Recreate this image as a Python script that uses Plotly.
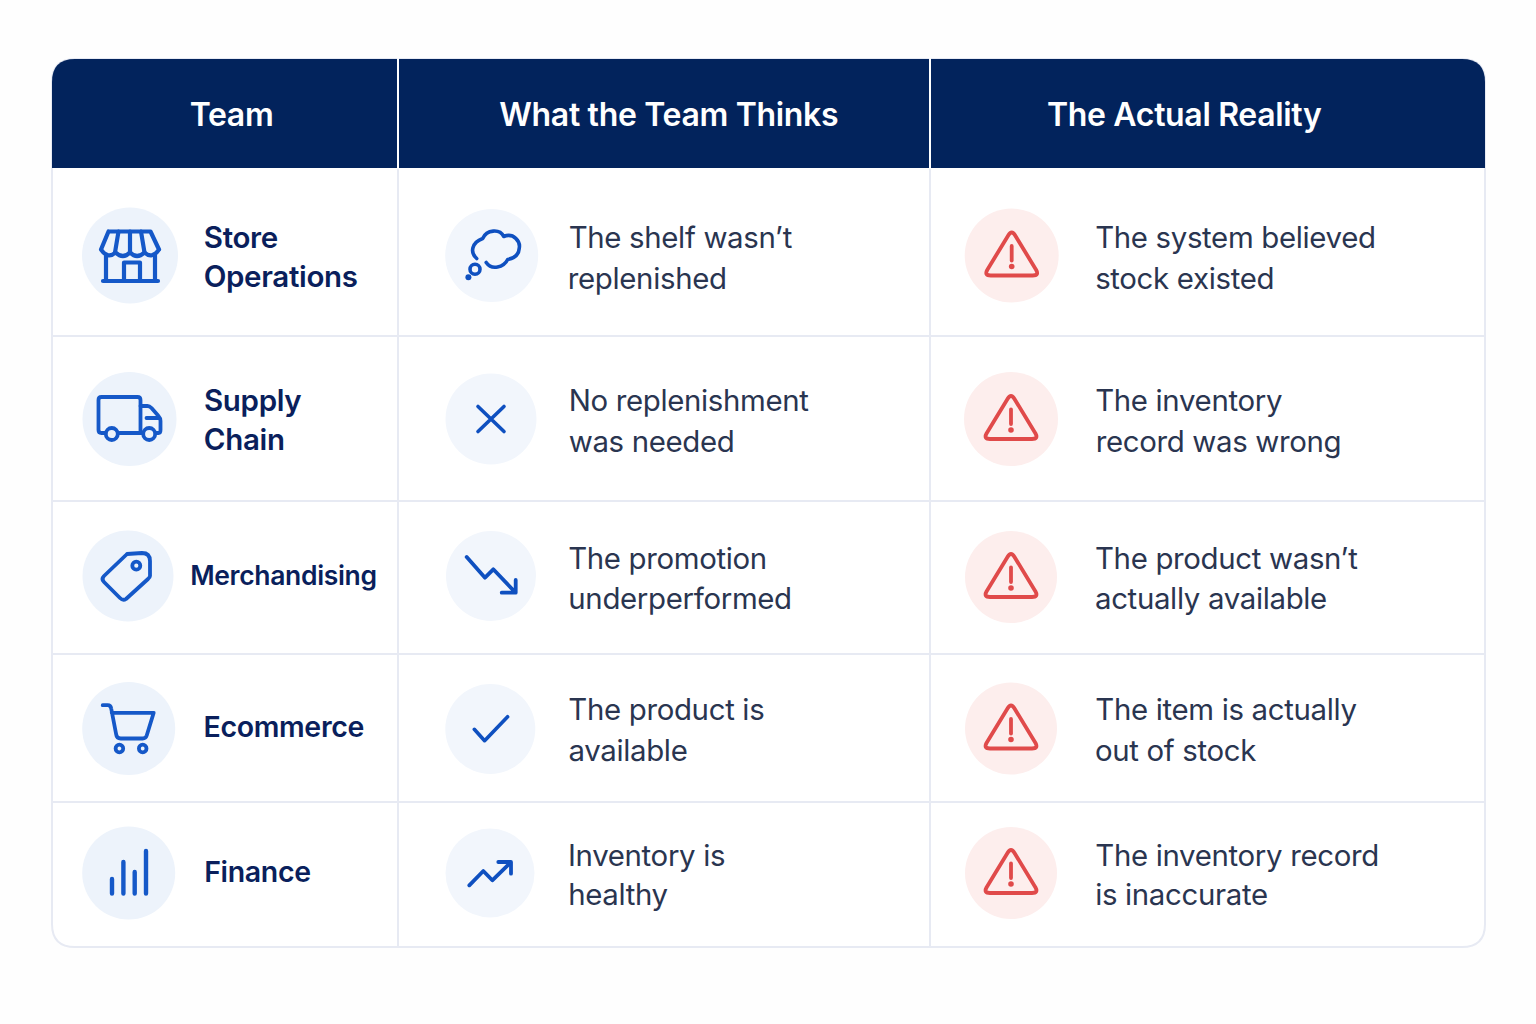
import re
import plotly.graph_objects as go

# ---- table content ----
HEADERS = ["Team", "What the Team Thinks", "The Actual Reality"]
TEAMS = [["Store", "Operations"], ["Supply", "Chain"], ["Merchandising"], ["Ecommerce"], ["Finance"]]
THINKS = [["The shelf wasn’t", "replenished"], ["No replenishment", "was needed"],
          ["The promotion", "underperformed"], ["The product is", "available"], ["Inventory is", "healthy"]]
REALITY = [["The system believed", "stock existed"], ["The inventory", "record was wrong"],
           ["The product wasn’t", "actually available"], ["The item is actually", "out of stock"],
           ["The inventory record", "is inaccurate"]]

# ---- layout (pixels) ----
L, R, T, B = 52, 1485, 59, 947
HEAD_B = 168
COLS = [398, 930]
ROWS = [336, 501, 654, 802]
HEAD_X = [231.5, 668, 1184.5]
HEAD_Y = 114.5
TEAM_X = [204.5, 204.5, 190.5, 204.5, 204.5]
TEAM_SIZE = [29.5, 29.5, 26.5, 28.5, 28.5]
TEAM_Y = [[236.5, 275.5], [399.5, 438.5], [574.5], [726.5], [871.5]]
TEXT_Y = [[237.5, 278.5], [400.5, 441.5], [558.5, 598.5], [709.5, 750.5], [855.5, 894.5]]
TEXT_X2, TEXT_X3 = 569, 1096
TEXT_SIZE = 29.4
SPACING = 0.33
C1 = [(130, 255.5, 48), (129.5, 419, 47), (128, 576, 45.5), (128.7, 728.5, 46.5), (128.7, 873, 46.5)]
C2 = [(491.7, 255.5, 46.5), (491, 419, 45.5), (491, 576, 45), (490.3, 729, 45), (490, 873, 44.5)]
C3 = [(1011.7, 255.5, 47), (1011, 419, 47), (1011, 577, 46), (1011, 728.5, 46), (1011, 873, 46)]

NAVY, BLUE, RED = "#02235C", "#1558C8", "#E04A4A"
TEAM_C, BODY_C, LINE_C = "#0A1F5C", "#2A3550", "#E7EAF3"
BG_BLUE1, BG_BLUE2, BG_RED = "#EDF3FB", "#F2F6FC", "#FDEEED"
FONT = "Inter"

# ---- icons, offsets from circle centre ----
ICONS = {
    "store": {"p": ["M-21.5,-24 L20.5,-24 L29,-6 M-21.5,-24 L-29,-6 Q-22,4 -14.5,-3 Q-7,4 0,-3 Q7,4 14.5,-3 Q22,4 29,-6",
                    "M-11.5,-24 L-15,-3 M0,-24 L0,-3 M11,-24 L14.5,-3",
                    "M-24,0 L-24,25 M25,0 L25,25 M-27,25.5 L28,25.5 M-6,25 L-6,7 L10,7 L10,25"], "w": 4.2},
    "truck": {"p": ["M-24,14 L-28,14 Q-31,14 -31,11 L-31,-19 Q-31,-22 -28,-22 L8,-22 Q11,-22 11,-19 L11,14 M-10,14 L12,14",
                    "M11,-13 L18,-13 Q20,-13 22,-11 L29,-3 Q31,-1 31,2 L31,11 Q31,14 29,14 L27,14 M17,-1 L30,-1"],
              "c": [(-17.7, 15, 6), (19.7, 15, 6)], "w": 3.8},
    "tag": {"p": ["M-1,-22 L14,-23 Q22,-23 22,-15 L22,0 Q22,1 20,3 L-2,23 Q-5,25 -8,22 L-24,6 Q-27,3 -24,0 L-2,-21 Z"],
            "c": [(8.3, -10.3, 4)], "w": 3.8},
    "cart": {"p": ["M-26,-23.3 L-21,-23.3 Q-18,-23.3 -17.5,-20 L-12.5,6 Q-12,10 -8,10 L14,10 Q17,10 18,7 L25,-15.7 L-17,-15.7"],
             "c": [(-9.3, 20, 3.8), (14, 20, 3.8)], "w": 3.8},
    "bars": {"p": ["M-16.7,6 L-16.7,20.5 M-5.3,-11 L-5.3,20.5 M6,-1 L6,20.5 M17.3,-22 L17.3,20.5"], "w": 4.4},
    "thought": {"p": ["M-15,3 C-22,-3 -20,-13 -9,-17 C-5,-26 8,-27 12,-19 C22,-23 29,-14 27.5,-7 C27,0 21,3 16,4 C12,12 0,15 -5.5,7"],
                "c": [(-16.7, 13.7, 5)], "d": [(-23.3, 21.7, 3)], "w": 3.6},
    "cross": {"p": ["M-13,-12.5 L13,12.5 M13,-12.5 L-13,12.5"], "w": 3.6},
    "down": {"p": ["M-24.3,-19 L-6,1.7 L2.3,-6.7 L24,16 M10.7,16.7 L24.7,16.7 L24.7,4"], "w": 3.8},
    "check": {"p": ["M-16,0.3 L-5.7,11.7 L17.3,-12.3"], "w": 3.6},
    "up": {"p": ["M-20.7,12.3 L-6.7,-2 L2.3,7.3 L20,-10 M8.3,-11 L21,-11 L21,0.7"], "w": 3.8},
    "warn": {"p": ["M-3.5,-20 Q0,-26 3.5,-20 L24.5,14.5 Q27.5,20 21,20 L-21,20 Q-27.5,20 -24.5,14.5 Z", "M0,-9.5 L0,5"],
             "d": [(0, 11, 2.8)], "w": 3.8},
}
ICONS1 = ["store", "truck", "tag", "cart", "bars"]
ICONS2 = ["thought", "cross", "down", "check", "up"]


def shift(path, cx, cy):
    def rep(m):
        return f"{float(m.group(1)) + cx:.2f},{float(m.group(2)) + cy:.2f}"
    return re.sub(r"(-?[\d.]+),(-?[\d.]+)", rep, path)


shapes = []


def circ(x, y, r, fill, line=None, w=0):
    shapes.append(dict(type="circle", xref="x", yref="y", x0=x - r, x1=x + r, y0=y - r, y1=y + r,
                       fillcolor=fill, line=dict(color=line or fill, width=w)))


def seg(x0, y0, x1, y1, color, w):
    shapes.append(dict(type="line", xref="x", yref="y", x0=x0, x1=x1, y0=y0, y1=y1, line=dict(color=color, width=w)))


def icon(name, cx, cy, color):
    ic = ICONS[name]
    for p in ic["p"]:
        shapes.append(dict(type="path", xref="x", yref="y", path=shift(p, cx, cy),
                           line=dict(color=color, width=ic["w"]), fillcolor="rgba(0,0,0,0)"))
    for (x, y, r) in ic.get("c", []):
        circ(cx + x, cy + y, r, "rgba(0,0,0,0)", color, ic["w"])
    for (x, y, r) in ic.get("d", []):
        circ(cx + x, cy + y, r, color)


rad = 23
# table body with border
shapes.append(dict(type="path", xref="x", yref="y",
                   path=f"M{L},{T + rad} Q{L},{T} {L + rad},{T} L{R - rad},{T} Q{R},{T} {R},{T + rad} "
                        f"L{R},{B - rad} Q{R},{B} {R - rad},{B} L{L + rad},{B} Q{L},{B} {L},{B - rad} Z",
                   fillcolor="#FFFFFF", line=dict(color=LINE_C, width=2)))
for y in ROWS:
    seg(L, y, R, y, LINE_C, 2)
for x in COLS:
    seg(x, HEAD_B, x, B, LINE_C, 2)
# header band
shapes.append(dict(type="path", xref="x", yref="y",
                   path=f"M{L},{HEAD_B} L{L},{T + rad} Q{L},{T} {L + rad},{T} L{R - rad},{T} Q{R},{T} {R},{T + rad} "
                        f"L{R},{HEAD_B} Z",
                   fillcolor=NAVY, line=dict(width=0)))
for x in COLS:
    seg(x, T, x, HEAD_B, "#FFFFFF", 2)

for i in range(5):
    x, y, r = C1[i]
    circ(x, y, r, BG_BLUE1)
    icon(ICONS1[i], x, y, BLUE)
    x, y, r = C2[i]
    circ(x, y, r, BG_BLUE2)
    icon(ICONS2[i], x, y, "#0F50C0")
    x, y, r = C3[i]
    circ(x, y, r, BG_RED)
    icon("warn", x, y, RED)

ann = []


def text(s, x, y, size, color, weight=400, anchor="left"):
    # letter-spacing is applied after layout, around the text's centre: offset so the left edge lands on x
    if anchor == "left":
        x = x - 2.7 - SPACING / 2 * len(s)
    ann.append(dict(text=s, x=x, y=y, xref="x", yref="y", xanchor=anchor, yanchor="middle", showarrow=False,
                    font=dict(family=FONT, size=size, color=color, weight=weight)))


for s, x in zip(HEADERS, HEAD_X):
    text(s, x, HEAD_Y, 32, "#FFFFFF", 600, "center")
for i in range(5):
    for s, y in zip(TEAMS[i], TEAM_Y[i]):
        text(s, TEAM_X[i], y, TEAM_SIZE[i], TEAM_C, 600)
    for s, y in zip(THINKS[i], TEXT_Y[i]):
        text(s, TEXT_X2, y, TEXT_SIZE, BODY_C)
    for s, y in zip(REALITY[i], TEXT_Y[i]):
        text(s, TEXT_X3, y, TEXT_SIZE, BODY_C)

fig = go.Figure()
fig.update_layout(width=1536, height=1024, margin=dict(l=0, r=0, t=0, b=0),
                  paper_bgcolor="#FEFEFE", plot_bgcolor="#FEFEFE", showlegend=False,
                  xaxis=dict(range=[0, 1536], visible=False, fixedrange=True),
                  yaxis=dict(range=[1024, 0], visible=False, fixedrange=True),
                  shapes=shapes, annotations=ann)
fig.write_html("out.html", config={"displayModeBar": False, "responsive": False},
               post_script="document.body.style.margin='0';"
                           "document.querySelectorAll('.shapelayer path').forEach(function(p){"
                           "p.style.strokeLinecap='round';p.style.strokeLinejoin='round';});"
                           "document.querySelectorAll('text.annotation-text').forEach(function(t){"
                           f"t.style.letterSpacing='-{SPACING}px';}});")
